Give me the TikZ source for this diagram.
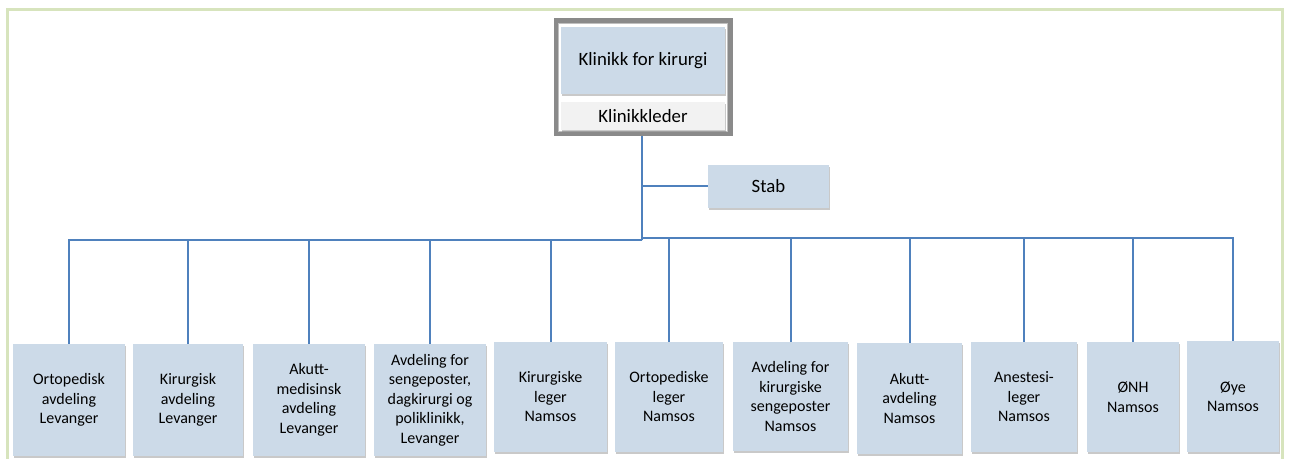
\documentclass[tikz,border=0pt]{standalone}
\usepackage{fontspec}
\setmainfont{Carlito}
\usetikzlibrary{shadows}
\definecolor{boxblue}{HTML}{CCDAE8}
\definecolor{linkblue}{HTML}{4F81BD}
\definecolor{framegreen}{HTML}{D7E4BD}
\definecolor{lightbox}{HTML}{F2F2F2}
\definecolor{framegray}{HTML}{8A8A8A}
\tikzset{
  sz/.style 2 args={minimum width=#1*0.5pt, minimum height=#2*0.5pt},
  unitbox/.style={inner sep=0pt, fill=boxblue, align=center,
    drop shadow={shadow xshift=0.4pt, shadow yshift=-1.2pt, opacity=0.35, fill=black!60},
    font=\fontsize{8}{9.75}\selectfont},
  headbox/.style={unitbox, font=\fontsize{9.4}{11}\selectfont},
  leadbox/.style={headbox, fill=lightbox},
  conn/.style={draw=linkblue, line width=1pt},
}
\begin{document}
\begin{tikzpicture}[x=0.5pt,y=-0.5pt]
\useasboundingbox (0,0) rectangle (1289,459);
\fill[white] (0,0) rectangle (1289,459);
% outer frame
\draw[framegreen, line width=1.5pt] (7,480) -- (7,10) -- (1282,10) -- (1282,480);

% top unit
\node[sz={174}{113}, inner sep=0pt, draw=framegray, line width=2.5pt, fill=white,
  drop shadow={shadow xshift=0.4pt, shadow yshift=-0.8pt, opacity=0.3}] (topframe) at (643,77.5) {};
\draw[black!25, line width=0.4pt] (558.8,23.8) rectangle (727.2,131.2);
\node[headbox, sz={164}{67}] (head) at (643,60.5) {Klinikk for kirurgi};
\node[leadbox, sz={164}{28}] (lead) at (643,116) {Klinikkleder};

% stab
\node[headbox, sz={121}{43}] (stab) at (768.5,186.5) {Stab};

% bottom units
\node[unitbox, sz={112}{112}] (b1) at (69,400) {Ortopedisk\\avdeling\\Levanger};
\node[unitbox, sz={110}{112}] (b2) at (188,400) {Kirurgisk\\avdeling\\Levanger};
\node[unitbox, sz={112}{112}] (b3) at (309,400) {Akutt-\\medisinsk\\avdeling\\Levanger};
\node[unitbox, sz={112}{112}] (b4) at (430,400) {Avdeling for\\sengeposter,\\dagkirurgi og\\poliklinikk,\\Levanger};
\node[unitbox, sz={113}{110}] (b5) at (550.5,397) {Kirurgiske\\leger\\Namsos};
\node[unitbox, sz={108}{110}] (b6) at (669,397) {Ortopediske\\leger\\Namsos};
\node[unitbox, sz={115}{109}] (b7) at (790.5,396.5) {Avdeling for\\kirurgiske\\sengeposter\\Namsos};
\node[unitbox, sz={105}{111}] (b8) at (909.5,398.5) {Akutt-\\avdeling\\Namsos};
\node[unitbox, sz={106}{110}] (b9) at (1024,397) {Anestesi-\\leger\\Namsos};
\node[unitbox, sz={92}{110}] (b10) at (1133,397) {ØNH\\Namsos};
\node[unitbox, sz={92}{111}] (b11) at (1233,396.5) {Øye\\Namsos};

% connectors
\coordinate (jl) at (642,240);
\coordinate (jr) at (642,238);
\draw[conn] (topframe.south -| jl) -- (jl);
\draw[conn] (stab.west) -- (stab.west -| jl);
\foreach \b in {b1,b2,b3,b4,b5} \draw[conn] (jl) -| (\b.north);
\foreach \b in {b6,b7,b8,b9,b10,b11} \draw[conn] (jr) -| (\b.north);
\end{tikzpicture}
\end{document}
